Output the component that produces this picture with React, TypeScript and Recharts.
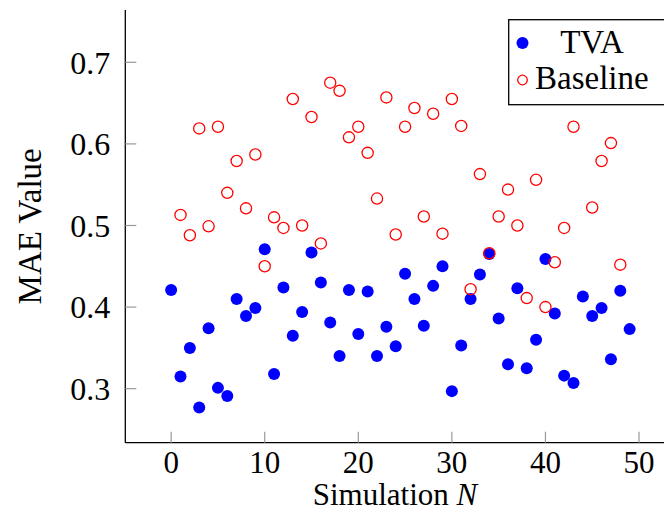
import { ScatterChart, Scatter, XAxis, YAxis, Legend } from 'recharts';

const simulationIds = Array.from({ length: 50 }, (_, i) => i);

const tvaValues = [
  0.421, 0.315, 0.35, 0.277, 0.374, 0.301, 0.291, 0.41, 0.389, 0.399,
  0.471, 0.318, 0.424, 0.365, 0.394, 0.467, 0.43, 0.381, 0.34, 0.421,
  0.367, 0.419, 0.34, 0.376, 0.352, 0.441, 0.41, 0.377, 0.426, 0.45,
  0.297, 0.353, 0.41, 0.44, 0.465, 0.386, 0.33, 0.423, 0.325, 0.36,
  0.459, 0.392, 0.316, 0.307, 0.413, 0.389, 0.399, 0.336, 0.42, 0.373,
];

const baselineValues: (number | null)[] = [
  null, 0.513, 0.488, 0.619, 0.499, 0.621, 0.54, 0.579, 0.521, 0.587,
  0.45, 0.51, 0.497, 0.655, 0.5, 0.633, 0.478, 0.675, 0.665, 0.608,
  0.621, 0.589, 0.533, 0.657, 0.489, 0.621, 0.644, 0.511, 0.637, 0.49,
  0.655, 0.622, 0.422, 0.563, 0.466, 0.511, 0.544, 0.5, 0.411, 0.556,
  0.4, 0.455, 0.497, 0.621, null, 0.522, 0.579, 0.601, 0.452, null,
];

const xTicks = [0, 10, 20, 30, 40, 50];
const yTicks = [0.3, 0.4, 0.5, 0.6, 0.7];

const tvaData = simulationIds.map((x) => ({ x, y: tvaValues[x] }));
const baselineData = simulationIds
  .filter((x) => baselineValues[x] != null)
  .map((x) => ({ x, y: baselineValues[x] as number }));

const FONT = 'Liberation Serif, DejaVu Serif, Times New Roman, serif';
const BLUE = '#0000ff';
const RED = '#ff0000';

const tvaDot = (p: any) => <circle cx={p.cx} cy={p.cy} r={6} fill={BLUE} />;
const baseDot = (p: any) => (
  <circle cx={p.cx} cy={p.cy} r={5.6} fill="none" stroke={RED} strokeWidth={1.3} />
);

function LegendBox() {
  return (
    <svg width={170} height={87} style={{ display: 'block', fontFamily: FONT }}>
      <rect x={0.7} y={0.7} width={168} height={85} fill="#fff" stroke="#000" strokeWidth={1.3} />
      <circle cx={14.5} cy={24} r={6} fill={BLUE} />
      <text x={84} y={34} fontSize={33} textAnchor="middle" fill="#000" style={{ fontFamily: FONT }}>TVA</text>
      <circle cx={14.5} cy={61} r={4.8} fill="none" stroke={RED} strokeWidth={1.3} />
      <text x={27} y={70} fontSize={33} fill="#000" style={{ fontFamily: FONT }}>Baseline</text>
    </svg>
  );
}

export default function App() {
  return (
    <div style={{ position: 'absolute', left: 0, top: 0, width: 664, height: 521, overflow: 'hidden', background: '#fff', fontFamily: FONT }}>
      <ScatterChart width={700} height={521} margin={{ top: 10, right: 24.5, bottom: 0, left: 0 }} style={{ fontFamily: FONT }}>
        <XAxis
          type="number"
          dataKey="x"
          domain={[-4.9, 53.9]}
          ticks={xTicks}
          allowDataOverflow
          height={78.3}
          tickSize={-11}
          tickMargin={19}
          tickLine={{ stroke: '#999', strokeWidth: 1.2 }}
          axisLine={{ stroke: '#000', strokeWidth: 1.3 }}
          tick={{ fill: '#000', fontSize: 31, style: { fontFamily: FONT } }}
          label={{
            content: () => (
              <text x={395} y={505} textAnchor="middle" fontSize={31} fill="#000" style={{ fontFamily: FONT }}>
                Simulation <tspan fontStyle="italic">N</tspan>
              </text>
            ),
          }}
        />
        <XAxis
          xAxisId="top"
          orientation="top"
          type="number"
          dataKey="x"
          domain={[-4.9, 53.9]}
          height={0}
          tick={false}
          tickLine={false}
          axisLine={{ stroke: '#222', strokeWidth: 1.3 }}
        />
        <YAxis
          type="number"
          dataKey="y"
          domain={[0.2338, 0.7641]}
          ticks={yTicks}
          allowDataOverflow
          width={125.3}
          tickSize={-11}
          tickMargin={26}
          tickFormatter={(v: number) => v.toFixed(1)}
          tickLine={{ stroke: '#999', strokeWidth: 1.2 }}
          axisLine={{ stroke: '#000', strokeWidth: 1.3 }}
          tick={{ fill: '#000', fontSize: 32, style: { fontFamily: FONT } }}
          label={{
            content: (props: any) => {
              const vb = props.viewBox;
              const cy = vb.y + vb.height / 2;
              return (
                <text
                  x={30}
                  y={cy}
                  transform={`rotate(-90 30 ${cy})`}
                  textAnchor="middle"
                  dominantBaseline="central"
                  fontSize={33}
                  fill="#000"
                  style={{ fontFamily: FONT }}
                >
                  MAE Value
                </text>
              );
            },
          }}
        />
        <Legend
          layout="vertical"
          align="center"
          verticalAlign="middle"
          wrapperStyle={{ position: 'absolute', left: 508, top: 19, width: 170, height: 87 }}
          content={() => <LegendBox />}
        />
        <Scatter name="TVA" data={tvaData} shape={tvaDot} isAnimationActive={false} />
        <Scatter name="Baseline" data={baselineData} shape={baseDot} isAnimationActive={false} />
      </ScatterChart>
    </div>
  );
}
